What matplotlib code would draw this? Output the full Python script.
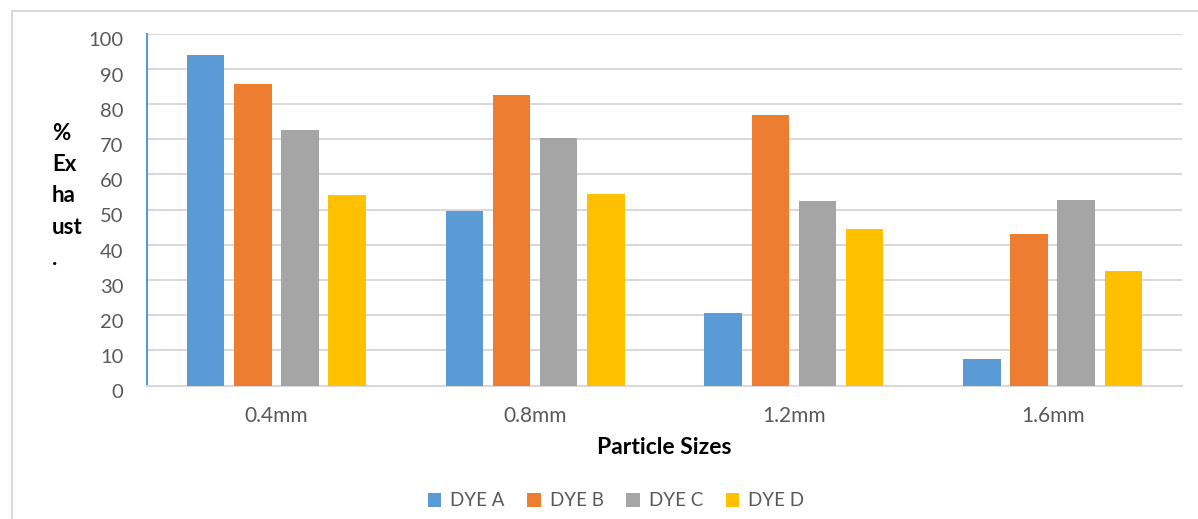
import numpy as np
from matplotlib import pyplot as plt
from matplotlib.patches import Rectangle
from matplotlib.transforms import ScaledTranslation

sizes = ['0.4mm', '0.8mm', '1.2mm', '1.6mm']
dye_a = [94, 49.6, 20.6, 7.5]
dye_b = [85.7, 82.5, 76.8, 43.0]
dye_c = [72.6, 70.3, 52.4, 52.7]
dye_d = [54.2, 54.4, 44.5, 32.5]
series = ['DYE A', 'DYE B', 'DYE C', 'DYE D']
colors = ['#5b9bd5', '#ed7d31', '#a5a5a5', '#ffc000']

plt.rcParams['font.family'] = ['Lato', 'DejaVu Sans']
txt = '#595959'

fig = plt.figure(figsize=(11.98, 5.19), dpi=100)
ax = fig.add_axes([147/1198, 1 - 385.5/519, (1182-147)/1198, (385.5-33.5)/519])

x = np.arange(len(sizes))
step = 0.182
width = 0.145
for i, (vals, name, col) in enumerate(zip([dye_a, dye_b, dye_c, dye_d], series, colors)):
    ax.bar(x + (i - 1.5) * step, vals, width, color=col, label=name, zorder=3)

ax.set_xlim(-0.5, 3.5)
ax.set_ylim(0, 100)
ax.set_yticks(range(0, 101, 10))
ax.set_xticks(x)
ax.set_xticklabels(sizes)
ax.tick_params(axis='y', length=0, labelsize=14.5, labelcolor=txt, pad=17)
ax.tick_params(axis='x', length=0, labelsize=15, labelcolor=txt, pad=15)
# excel puts the value labels a little below each gridline
for lbl in ax.get_yticklabels():
    lbl.set_transform(lbl.get_transform() + ScaledTranslation(0, -6/100, fig.dpi_scale_trans))
ax.grid(axis='y', color='#d9d9d9', linewidth=1.5, zorder=0)

for s in ['top', 'right']:
    ax.spines[s].set_visible(False)
ax.spines['left'].set_color('#5b9bd5')
ax.spines['left'].set_linewidth(1.5)
ax.spines['bottom'].set_color('#d9d9d9')
ax.spines['bottom'].set_linewidth(1.5)

ax.set_xlabel('Particle Sizes', fontsize=16.5, fontweight='bold', color='black', labelpad=8)
fig.text(52/1198, 1 - 123/519, '%\nEx\nha\nust\n.', fontsize=16, fontweight='bold',
         color='black', ha='left', va='top', linespacing=1.6)

ax.legend(loc='center', bbox_to_anchor=(616/1198, 1 - 501/519), bbox_transform=fig.transFigure,
          ncol=4, frameon=False, fontsize=13.5, labelcolor=txt, handlelength=0.7, handleheight=0.7,
          handletextpad=0.5, columnspacing=1.2)

# outer chart border
fig.patches.append(Rectangle((12/1198, -0.1), 1.2, 1 - 11/519 + 0.1, transform=fig.transFigure,
                             fill=False, edgecolor='#d9d9d9', linewidth=1.5))

fig.savefig('out.png', dpi=100)
